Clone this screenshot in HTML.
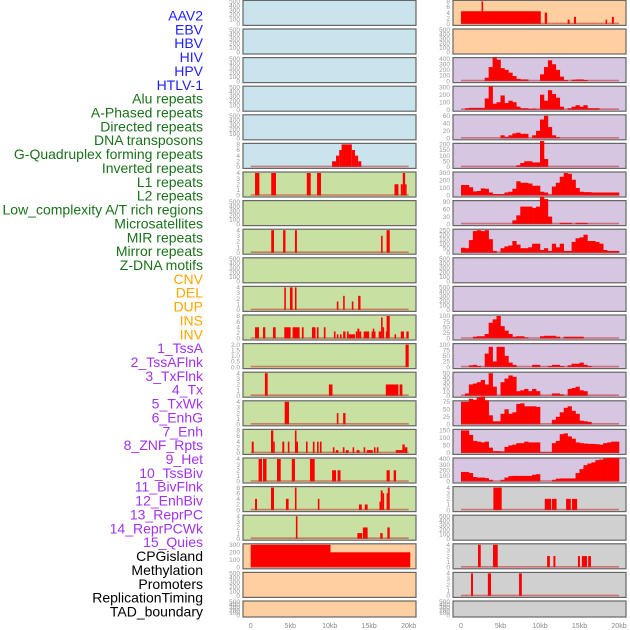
<!DOCTYPE html>
<html><head><meta charset="utf-8">
<style>
html,body{margin:0;padding:0;background:#fff;}
svg{display:block;font-family:"Liberation Sans",sans-serif;}
.lab{font-size:14px;text-anchor:end;}
.tk{font-size:6.5px;fill:#999;text-anchor:end;}
.xt{font-size:7px;fill:#888;text-anchor:middle;}
</style></head>
<body>
<svg id="chart" width="630" height="630" viewBox="0 0 630 630"></svg>
<script>
// ---- labels ----
const trackLabels = ["AAV2","EBV","HBV","HIV","HPV","HTLV-1","Alu repeats","A-Phased repeats","Directed repeats","DNA transposons","G-Quadruplex forming repeats","Inverted repeats","L1 repeats","L2 repeats","Low_complexity A/T rich regions","Microsatellites","MIR repeats","Mirror repeats","Z-DNA motifs","CNV","DEL","DUP","INS","INV","1_TssA","2_TssAFlnk","3_TxFlnk","4_Tx","5_TxWk","6_EnhG","7_Enh","8_ZNF_Rpts","9_Het","10_TssBiv","11_BivFlnk","12_EnhBiv","13_ReprPC","14_ReprPCWk","15_Quies","CPGisland","Methylation","Promoters","ReplicationTiming","TAD_boundary"];
const labelGroups = ["v","v","v","v","v","v","r","r","r","r","r","r","r","r","r","r","r","r","r","s","s","s","s","s","c","c","c","c","c","c","c","c","c","c","c","c","c","c","c","o","o","o","o","o"];
const xTicks = [0,5,10,15,20];
const xTickLabels = ["0","5kb","10kb","15kb","20kb"];
const emptyTicks = [0,100,200,300,400,500];

// ---- left column data: bar segments [startKb,endKb,value] ----
const L5 = [[10.3,10.8,2],[10.8,11.2,4],[11.2,11.5,6],[11.5,12.8,8],[12.8,13.2,6],[13.2,13.6,4],[13.6,14.0,2]];
const L6 = [[0.55,1.1,4],[2.6,3.2,4],[7.1,7.6,4],[8.4,8.9,4],[18.2,18.7,2],[19.0,19.25,2],[19.25,19.55,4],[19.55,19.7,2]];
const L8 = [[2.6,2.95,4],[4.1,4.4,4],[5.6,5.85,4],[16.5,16.7,3],[17.2,17.6,4]];
const L10 = [[4.25,4.45,4],[4.97,5.3,4],[5.6,5.8,4],[10.9,11.1,1.5],[11.7,11.9,2.5],[12.8,13.0,1.5],[13.6,13.9,2.5]];
const L11 = [[0.55,1.05,4],[1.56,1.85,4],[2.82,3.16,4],[4.25,5.05,4],[5.3,6.19,4],[6.48,6.7,4],[7.75,8.21,4],[8.38,8.59,4],[9.26,9.47,4],[10.53,10.74,2.5],[10.9,11.1,1.5],[11.3,11.5,1.5],[11.7,12.0,2.5],[12.2,12.4,2.5],[12.4,13.2,1.5],[13.3,13.5,2.5],[13.5,13.75,3.5],[13.75,14.0,2.5],[14.3,15.0,2.5],[15.3,15.45,2.5],[15.45,15.6,3.5],[15.6,15.8,2.5],[16.2,16.5,2.5],[16.5,16.7,7.5],[16.7,16.8,4],[17.1,17.2,2.5],[17.2,17.6,8],[18.2,18.4,1.5],[19.0,19.4,2.5],[19.7,20.0,2.5]];
const L12 = [[19.6,20.0,2]];
const L13 = [[1.8,2.15,4],[9.9,10.35,2],[17.1,18.7,2],[18.85,19.2,2]];
const L14 = [[4.3,4.85,4],[10.9,11.1,2],[11.7,12.0,2]];
const L15 = [[0.13,0.38,4],[2.57,2.86,8],[2.86,2.98,4],[4.0,4.25,4],[4.7,4.9,4],[5.6,5.8,8],[5.8,5.95,4],[7.0,7.2,4],[7.87,8.08,4],[8.4,8.6,4],[8.76,8.97,4],[10.4,10.6,2],[10.78,11.1,1],[11.66,11.87,2],[12.04,12.4,1],[12.9,13.1,2],[13.4,13.77,1],[14.3,14.5,2],[14.7,15.45,1],[15.6,15.8,2],[15.96,16.17,2],[18.36,19.2,1],[19.2,19.5,3],[19.5,19.83,2]];
const L16 = [[1.0,1.43,4],[1.56,2.0,4],[3.33,3.8,4],[5.2,5.6,4],[7.5,8.1,4],[10.3,10.8,2],[11.0,11.37,2],[17.2,17.6,2],[18.1,18.4,2]];
const L17 = [[0.55,0.8,4],[2.57,2.95,8],[4.46,4.8,4],[5.6,5.8,8],[8.5,8.7,4],[13.7,14.06,2],[14.44,14.8,2],[16.3,16.46,3],[16.46,16.7,7],[16.7,16.8,6],[17.2,17.35,6],[17.35,17.6,8]];
const L18 = [[5.72,5.92,4],[13.5,14.1,1],[14.2,14.8,2],[16.4,16.7,1],[17.3,17.6,2]];
const L19 = [[0,10.1,300],[10.1,20.2,200]];

// ---- right column data: sparse bars ----
const R0 = [[0,10.1,4.5],[2.6,2.8,8],[10.6,10.9,4],[13.5,13.75,1.5],[14.3,14.55,2.5],[18.3,18.5,1.5],[19.1,19.35,2.5]];
const R17 = [[4.1,5.15,4],[10.6,11.4,2],[11.5,12.1,2],[13.3,13.9,2],[14.05,14.7,2]];
const R19 = [[2.15,2.5,4],[4.05,4.65,4],[10.9,11.25,2],[11.7,11.95,2],[14.8,15.05,2],[15.3,15.95,2],[16.1,16.45,2]];
const R20 = [[1.27,1.52,4],[3.4,3.8,4],[7.35,7.7,4]];
// ---- right column data: 0.5kb binned profiles (40 bins, 0-20kb) ----
const R2 = [0,0,0,0,0,0,60,250,420,380,230,200,150,90,40,30,30,0,0,0,120,250,370,300,200,80,20,0,25,30,30,20,0,0,0,0,0,0,0,0];
const R3 = [0,20,25,25,25,25,150,310,80,100,190,90,120,100,40,20,20,10,15,5,200,120,260,210,160,40,0,20,40,60,40,60,20,20,20,0,0,0,0,0];
const R4 = [0,0,0,0,0,0,0,0,0,0,8,4,8,13,15,12,12,0,8,20,50,60,30,8,3,0,0,0,0,0,0,0,0,0,0,0,0,0,0,0];
const R5 = [0,0,0,0,0,0,0,0,0,0,0,0,0,0,15,35,50,50,40,40,230,70,0,0,0,0,0,0,0,0,0,0,0,0,0,0,0,0,0,0];
const R6 = [140,140,110,55,60,95,90,40,20,20,20,40,50,90,190,170,170,160,130,130,50,40,15,120,170,250,300,290,210,100,50,45,45,40,40,40,40,40,40,40];
const R7 = [0,0,0,0,0,0,0,0,0,0,0,0,0,15,35,70,70,70,65,70,110,100,30,0,0,5,5,5,0,5,5,5,0,0,0,0,0,0,0,0];
const R8 = [55,50,140,240,250,240,250,150,20,0,50,70,80,130,90,50,50,60,100,100,30,50,20,100,60,100,20,20,120,160,170,200,130,130,120,100,30,20,20,20];
const R11 = [0,0,0,8,10,10,20,70,85,100,55,35,20,8,10,10,5,0,0,0,10,12,12,12,8,0,8,8,8,8,8,0,0,0,0,0,0,0,0,0];
const R12 = [0,0,8,10,5,0,60,90,25,90,90,50,20,10,0,0,0,0,10,10,0,0,5,10,10,5,0,8,15,15,20,10,5,0,0,0,0,0,0,0];
const R13 = [0,5,25,27,30,35,25,50,20,0,30,38,45,42,10,12,15,10,15,10,0,0,0,5,5,3,0,15,17,20,12,10,0,0,0,0,0,0,0,0];
const R14 = [75,75,85,82,90,93,80,30,10,10,35,50,35,40,68,70,60,60,60,58,0,0,0,15,25,40,55,60,45,35,12,10,8,0,0,0,0,0,0,0];
const R15 = [150,150,120,80,75,70,75,35,12,12,10,40,50,55,65,65,75,70,70,70,5,5,5,65,80,125,130,110,95,70,65,62,60,60,58,55,65,70,75,75];
const R16 = [170,170,150,80,70,70,60,30,0,0,30,70,95,100,100,100,100,100,120,130,0,0,0,30,50,55,55,55,55,150,220,290,320,340,380,390,410,420,420,420];

// ---- panel specs ----
const BLUE="#c9e4ec", GREEN="#c8e0a2", ORANGE="#ffcf9f", PURPLE="#d6c6e2", GRAY="#d0d0d0";
const leftSpecs = [
 [BLUE,null,null],[BLUE,null,null],[BLUE,null,null],[BLUE,null,null],[BLUE,null,null],
 [BLUE,L5,[0,2,4,6,8]],[GREEN,L6,[0,1,2,3,4]],[GREEN,null,null],[GREEN,L8,[0,1,2,3,4]],[GREEN,null,null],
 [GREEN,L10,[0,1,2,3,4]],[GREEN,L11,[0,2,4,6,8]],[GREEN,L12,[0,0.5,1,1.5,2]],[GREEN,L13,[0,1,2,3,4]],
 [GREEN,L14,[0,1,2,3,4]],[GREEN,L15,[0,2,4,6,8]],[GREEN,L16,[0,1,2,3,4]],[GREEN,L17,[0,2,4,6,8]],
 [GREEN,L18,[0,1,2,3,4]],[ORANGE,L19,[0,100,200,300]],[ORANGE,null,null],[ORANGE,null,null]];
const rightSpecs = [
 [ORANGE,R0,[0,2,4,6,8]],[ORANGE,null,null],[PURPLE,R2,[0,100,200,300,400]],[PURPLE,R3,[0,100,200,300]],
 [PURPLE,R4,[0,20,40,60]],[PURPLE,R5,[0,50,100,150,200]],[PURPLE,R6,[0,100,200,300]],[PURPLE,R7,[0,30,60,90]],
 [PURPLE,R8,[0,50,100,150,200,250]],[PURPLE,null,null],[PURPLE,null,null],[PURPLE,R11,[0,25,50,75,100]],
 [PURPLE,R12,[0,25,50,75,100]],[PURPLE,R13,[0,10,20,30,40,50]],[PURPLE,R14,[0,25,50,75]],[PURPLE,R15,[0,50,100,150]],
 [PURPLE,R16,[0,100,200,300,400]],[GRAY,R17,[0,1,2,3,4]],[GRAY,null,null],[GRAY,R19,[0,1,2,3,4]],[GRAY,R20,[0,1,2,3,4]],[GRAY,null,null]];

const NS="http://www.w3.org/2000/svg";
const svg=document.getElementById("chart");
function mk(tag,attrs,parent){const e=document.createElementNS(NS,tag);for(const k in attrs)e.setAttribute(k,attrs[k]);(parent||svg).appendChild(e);return e;}

// labels
const colorMap={v:"#1f1fff",r:"#1a721a",s:"#ffa500",c:"#a032f0",o:"#000"};
trackLabels.forEach((t,i)=>{
  const e=mk("text",{x:203,y:20.5+i*13.86,class:"lab",fill:colorMap[labelGroups[i]]});
  e.textContent=t;
  
  
});

function column(specs,px,x0,colName){
  const pw=173;
  const xs=kb=>x0+kb*7.9;
  specs.forEach((s,i)=>{
    const top=0.4+28.6*i, h=(i===21)?16:25;
    const g=mk("g",{});
    
    
    mk("rect",{x:px,y:top,width:pw,height:h,fill:s[0],stroke:"#666","stroke-width":1.2},g);
    const yb=top+h-1.5, yt=top+1;
    const ticks=s[2]||emptyTicks;
    const ymax=ticks[ticks.length-1];
    const ys=v=>yb-(v/ymax)*(yb-yt);
    ticks.forEach(t=>{
      const e=mk("text",{x:px-3,y:ys(t)+2.2,class:"tk"},g);
      e.textContent=(s[2]&&ymax===2)?t.toFixed(1):t;
      
      
    });
    const d=s[1];
    if(!d) return;
    if(typeof d[0]==="number"){
      d.forEach((v,b)=>{ if(v<=0) return;
        const r=mk("rect",{x:xs(b*0.5),y:ys(v),width:xs(b*0.5+0.5)-xs(b*0.5)+0.3,height:yb-ys(v),fill:"#ff0000"},g);
        
        
      });
    } else {
      d.forEach(seg=>{
        const r=mk("rect",{x:xs(seg[0]),y:ys(seg[2]),width:Math.max(1.5,xs(seg[1])-xs(seg[0])),height:yb-ys(seg[2]),fill:"#ff0000"},g);
        
        
      });
    }
    mk("line",{x1:xs(0),x2:xs(20),y1:yb-0.5,y2:yb-0.5,stroke:"rgba(200,40,40,0.55)","stroke-width":1.6},g);
  });
  xTicks.forEach((t,j)=>{
    const e=mk("text",{x:xs(t),y:628,class:"xt"});
    e.textContent=xTickLabels[j];
    
    
  });
}
column(leftSpecs,243,250.7,"left");
column(rightSpecs,453,461,"right");
</script>
</body></html>
